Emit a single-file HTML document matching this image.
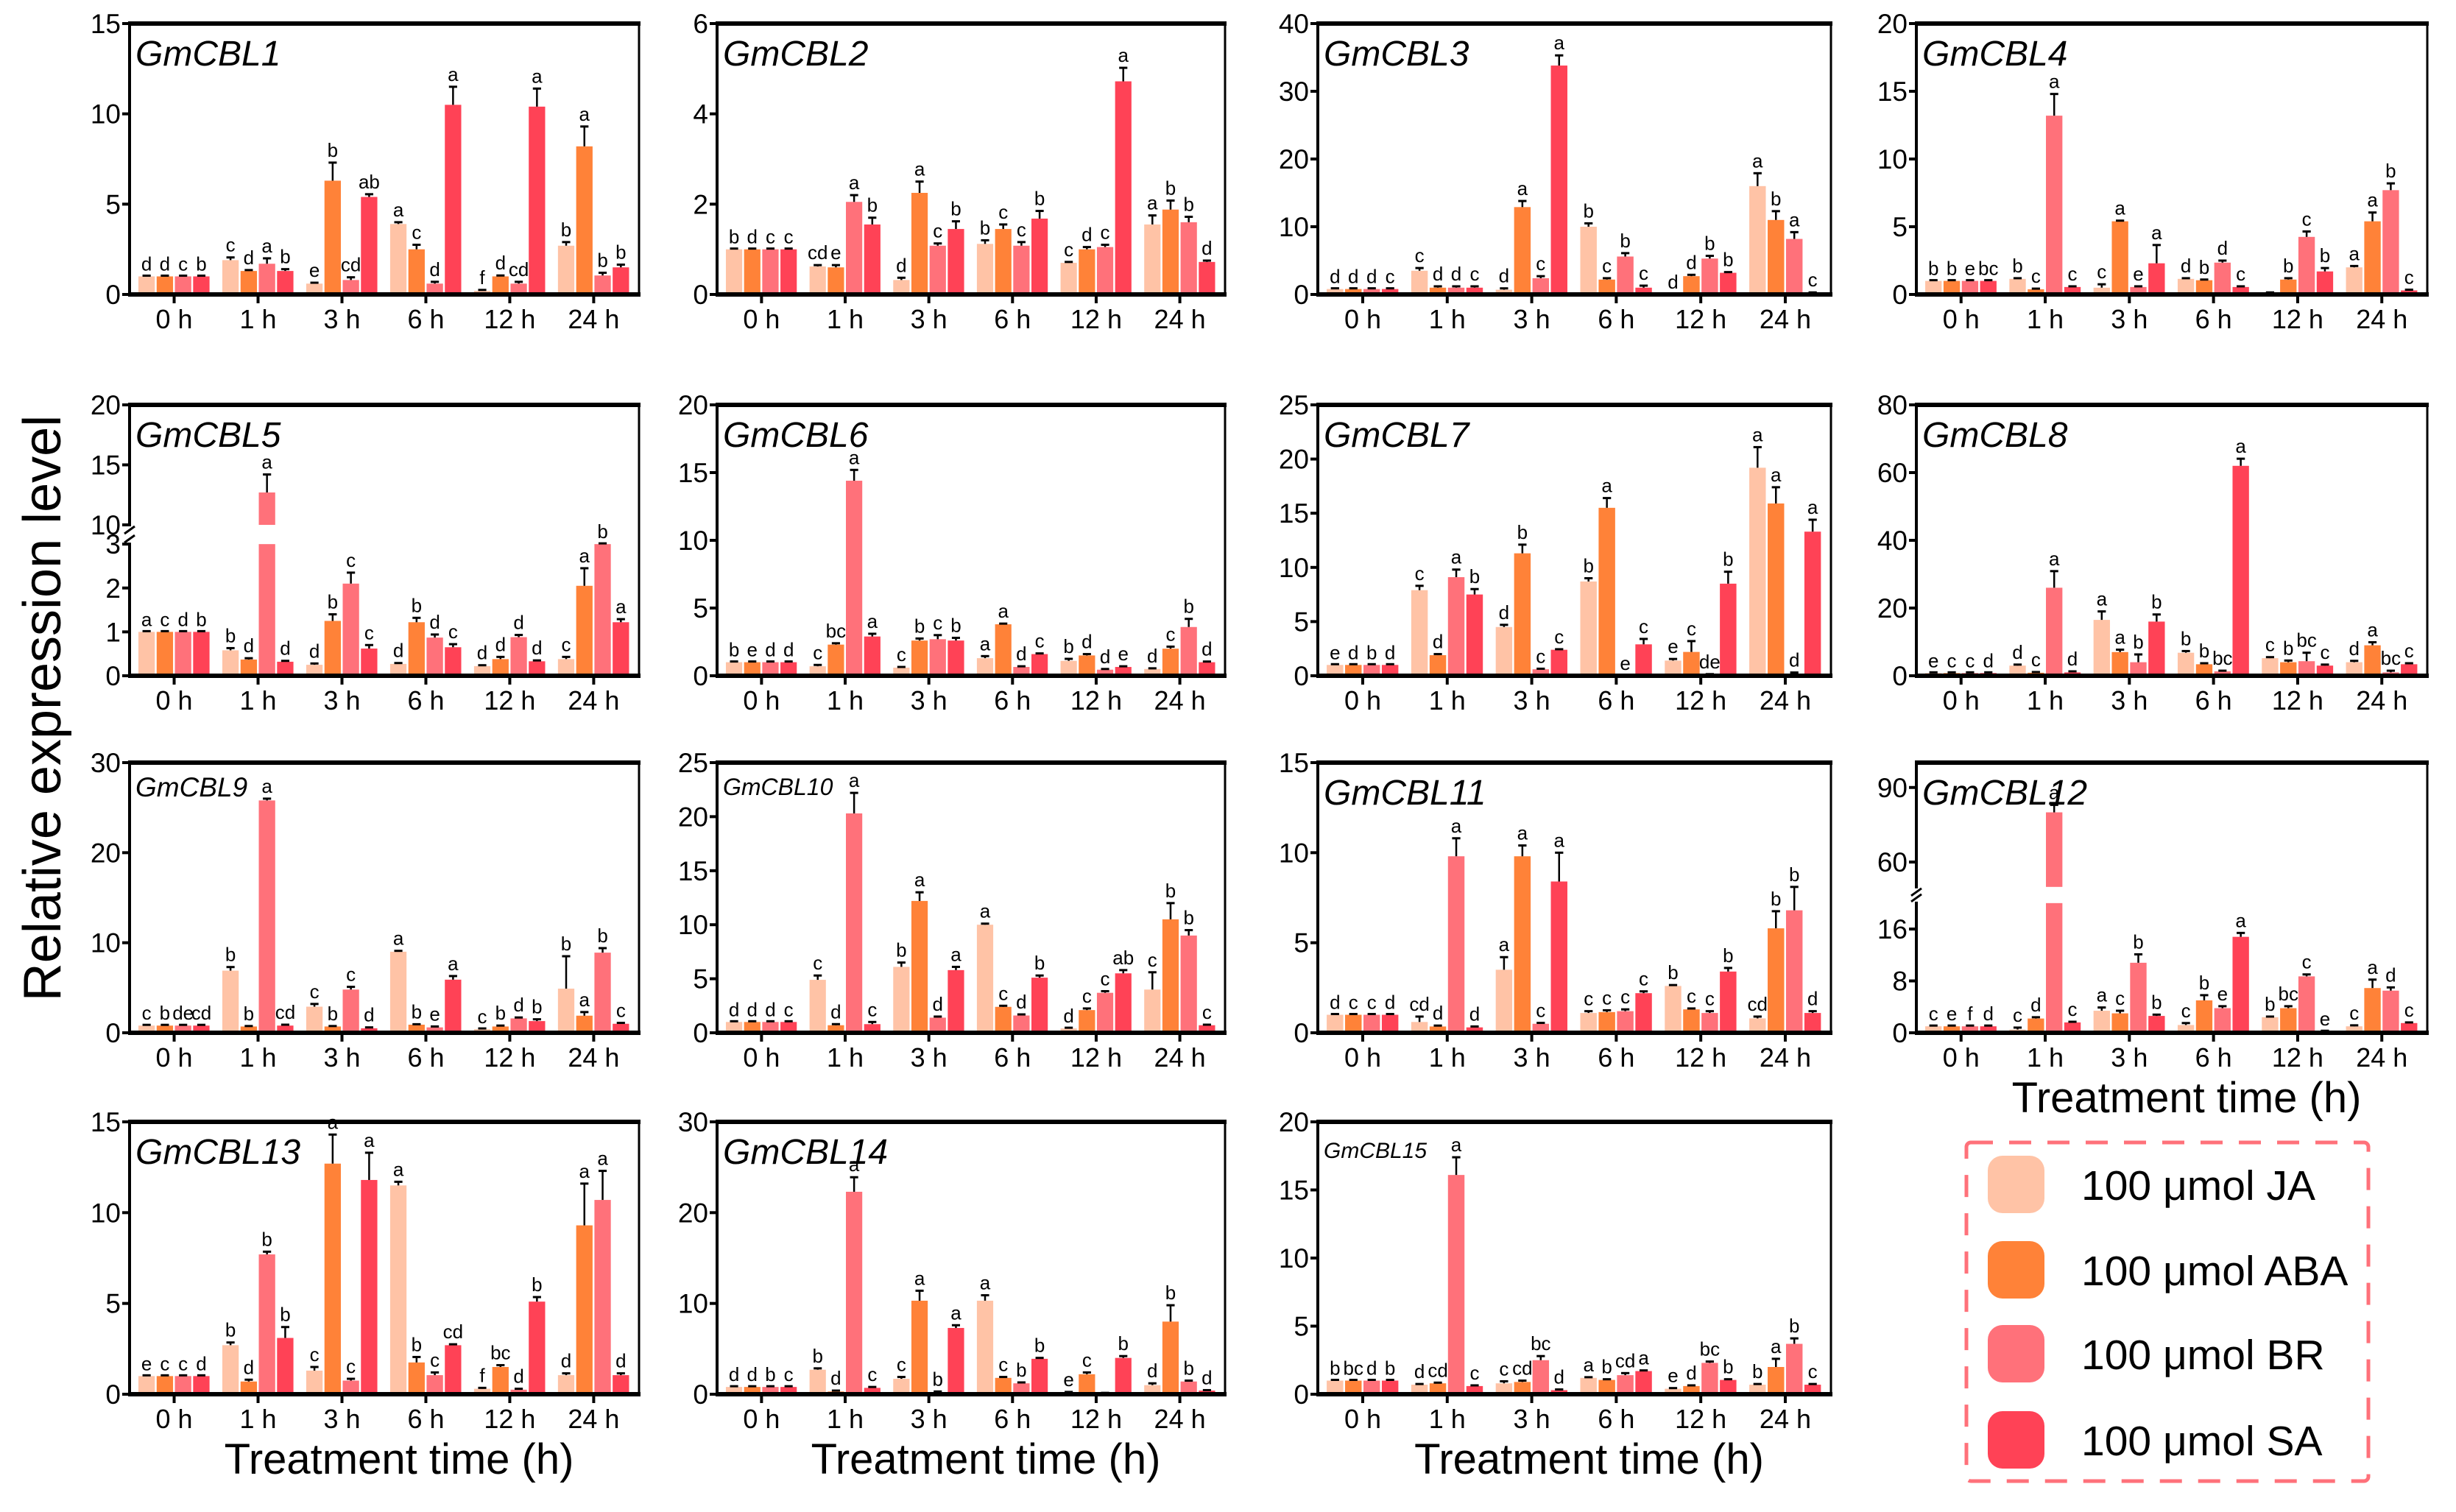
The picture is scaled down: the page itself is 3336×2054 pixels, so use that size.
<!DOCTYPE html>
<html><head><meta charset="utf-8">
<style>
html,body{margin:0;padding:0;background:#fff;}
svg{display:block;font-family:"Liberation Sans",Arial,sans-serif;}
</style></head>
<body>
<svg id="chart" xmlns="http://www.w3.org/2000/svg" width="3336" height="2054" viewBox="0 0 3336 2054">
<rect x="0" y="0" width="3336" height="2054" fill="#fff"/>
<text x="0" y="0" transform="translate(82,962) rotate(-90)" text-anchor="middle" font-size="72">Relative expression level</text>
<g>
  <rect x="2671" y="1552" width="546" height="460" rx="6" fill="none" stroke="#FF717A" stroke-width="5" stroke-dasharray="30,22"/>
  <rect x="2700" y="1570" width="77" height="78" rx="20" fill="#FFC3A6"/>
  <text x="2827" y="1630" font-size="57">100 μmol JA</text>
  <rect x="2700" y="1686" width="77" height="78" rx="20" fill="#FF8238"/>
  <text x="2827" y="1746" font-size="57">100 μmol ABA</text>
  <rect x="2700" y="1800" width="77" height="78" rx="20" fill="#FF717A"/>
  <text x="2827" y="1860" font-size="57">100 μmol BR</text>
  <rect x="2700" y="1917" width="77" height="78" rx="20" fill="#FF4256"/>
  <text x="2827" y="1977" font-size="57">100 μmol SA</text>
</g>
</svg>
<script>
const TIMES = ["0 h","1 h","3 h","6 h","12 h","24 h"];
const GENES = ["GmCBL1","GmCBL2","GmCBL3","GmCBL4","GmCBL5","GmCBL6","GmCBL7","GmCBL8","GmCBL9","GmCBL10","GmCBL11","GmCBL12","GmCBL13","GmCBL14","GmCBL15"];
const SERIES = ["JA","ABA","BR","SA"];
const Y_MAX = [15,6,40,20,20,20,25,80,30,25,15,100,15,30,20];
const Y_TICKS = [[0,5,10,15],[0,2,4,6],[0,10,20,30,40],[0,5,10,15,20],[0,1,2,3,10,15,20],[0,5,10,15,20],[0,5,10,15,20,25],[0,20,40,60,80],[0,10,20,30],[0,5,10,15,20,25],[0,5,10,15],[0,8,16,60,90],[0,5,10,15],[0,10,20,30],[0,5,10,15,20]];
const BREAK_VALUES = {4:[3,10], 11:[20,50]};

const JA_VALUES = [
 [1,1.9,0.6,3.9,0.2,2.7],[1,0.62,0.32,1.12,0.7,1.55],[0.8,3.5,0.7,10,0,16],[1,1.15,0.5,1.15,0.1,2.0],
 [1,0.58,0.25,0.27,0.22,0.38],[1,0.7,0.6,1.3,1.1,0.5],[1,7.9,4.5,8.7,1.4,19.2],[0.8,3,16.5,6.8,5.2,4],
 [0.8,6.9,2.9,9.0,0.4,4.9],[1,4.9,6.1,10,0.4,4],[1,0.6,3.5,1.1,2.6,0.8],[1,0.5,3.4,1.2,2.4,1.0],
 [1,2.7,1.3,11.5,0.3,1.05],[0.8,2.7,1.7,10.3,0.2,1.0],[1,0.7,0.8,1.2,0.4,0.7]];
const ABA_VALUES = [
 [1,1.3,6.3,2.5,1.0,8.2],[1,0.6,2.25,1.45,1.0,1.88],[0.8,1,12.9,2.2,2.7,11],[1,0.38,5.4,1.05,1.1,5.4],
 [1,0.37,1.25,1.22,0.38,2.05],[1,2.3,2.6,3.8,1.5,2.0],[1,1.9,11.3,15.5,2.2,15.9],[0.8,0.9,7,3.4,4,9],
 [0.8,0.7,0.7,0.9,0.7,1.9],[1,0.7,12.2,2.4,2.1,10.5],[1,0.35,9.8,1.15,1.3,5.8],[1,2.2,3.0,5.0,3.8,6.9],
 [1,0.7,12.7,1.75,1.5,9.3],[0.8,0.3,10.3,1.8,2.2,8.0],[1,0.8,0.9,1.05,0.6,2.0]];
const BR_VALUES = [
 [1,1.7,0.8,0.6,0.6,1.05],[1,2.05,1.08,1.08,1.05,1.6],[0.8,1,2.4,5.6,5.3,8.2],[1,13.2,0.55,2.35,4.25,7.7],
 [1,12.7,2.1,0.87,0.88,3.0],[1,14.4,2.7,0.65,0.45,3.6],[1,9.1,0.6,0,0.1,0.2],[0.8,26,4,1.3,4.3,1],
 [0.8,25.8,4.8,0.6,1.6,8.9],[1,20.3,1.4,1.6,3.7,9.0],[1,9.8,0.5,1.2,1.1,6.8],[1,80,10.8,3.8,8.7,6.5],
 [1,7.7,0.75,1.05,0.25,10.7],[0.8,22.3,0.2,1.2,0.1,1.4],[1,16.1,2.5,1.4,2.3,3.7]];
const SA_VALUES = [
 [1,1.3,5.4,10.5,10.4,1.5],[1,1.55,1.45,1.68,4.72,0.72],[0.8,1,33.8,1,3.2,0.2],[1,0.55,2.3,0.55,1.7,0.3],
 [1,0.32,0.62,0.65,0.33,1.22],[1,2.9,2.6,1.6,0.65,1.0],[1,7.5,2.4,2.9,8.5,13.3],[0.8,1,16,62,3,3.4],
 [0.8,0.8,0.5,5.9,1.3,1.0],[1,0.8,5.8,5.1,5.5,0.7],[1,0.3,8.4,2.2,3.4,1.1],[1,1.6,2.6,14.8,0.2,1.5],
 [1,3.1,11.8,2.7,5.1,1.05],[0.8,0.7,7.3,3.9,4.0,0.4],[1,0.6,0.3,1.7,1.05,0.7]];

const JA_ERRORS = [
 [0,0.15,0.05,0.1,0.05,0.2],[0,0.03,0.05,0.08,0.02,0.2],[0,0.4,0.2,0.5,0,1.9],[0,0.05,0.25,0.05,0.05,0.1],
 [0,0.05,0.03,0.02,0.02,0.05],[0,0.1,0.05,0.15,0.15,0.05],[0,0.4,0.2,0.3,0.15,1.9],[0,0.3,2.5,0.5,0.3,0.4],
 [0,0.4,0.3,0.1,0,3.6],[0,0.4,0.4,0.1,0,1.6],[0,0.3,0.7,0.1,0.05,0.1],[0,0.3,0.5,0.3,0.1,0.15],
 [0,0.15,0.2,0.2,0.05,0.1],[0,0.15,0.2,0.6,0.05,0.2],[0,0.05,0.15,0.05,0.05,0.05]];
const ABA_ERRORS = [
 [0,0.05,1.0,0.25,0.05,1.1],[0,0.05,0.25,0.1,0.05,0.2],[0,0.2,0.9,0.2,0.2,1.3],[0,0.05,0.05,0.05,0.1,0.65],
 [0,0.03,0.15,0.1,0.05,0.4],[0,0.1,0.15,0.05,0.1,0.15],[0,0.1,0.8,0.9,1.0,1.5],[0,0.2,0.7,0.3,0.5,0.9],
 [0,0.05,0.05,0.05,0.1,0.4],[0,0.1,0.8,0.1,0.15,1.5],[0,0.05,0.6,0.1,0.05,0.95],[0,0.2,0.4,0.8,0.3,1.3],
 [0,0.1,1.6,0.3,0.1,2.3],[0,0.1,1.1,0.1,0.2,1.8],[0,0.05,0.1,0.05,0.05,0.6]];
const BR_ERRORS = [
 [0,0.3,0.15,0.1,0.1,0.15],[0,0.15,0.05,0.08,0.05,0.12],[0,0.2,0.3,0.5,0.4,1],[0,1.6,0.05,0.15,0.4,0.5],
 [0,1.5,0.25,0.07,0.05,0],[0,0.8,0.3,0.05,0.05,0.6],[0,0.7,0.05,0,0.05,0.1],[0,4.9,2.3,0.2,2.5,0.5],
 [0,0.2,0.3,0.1,0.1,0.5],[0,1.9,0.1,0.1,0.15,0.5],[0,1.0,0.05,0.1,0.1,1.3],[0,3,1.3,0.3,0.3,0.5],
 [0,0.15,0.1,0.15,0.05,1.6],[0,1.6,0.1,0.1,0.05,0.1],[0,1.3,0.3,0.15,0.1,0.4]];
const SA_ERRORS = [
 [0,0.1,0.15,1.0,1.0,0.15],[0,0.15,0.17,0.17,0.3,0.03],[0,0.2,1.5,0.3,0.1,0.1],[0,0.05,1.35,0.05,0.25,0.05],
 [0,0.02,0.08,0.07,0.02,0.07],[0,0.2,0.2,0.05,0.05,0.05],[0,0.5,0.05,0.5,1.1,1.1],[0,0.3,2.1,2.1,0.3,0.3],
 [0,0.1,0.1,0.4,0.2,0.1],[0,0.2,0.3,0.2,0.3,0.05],[0,0.05,1.6,0.1,0.2,0.1],[0,0.1,0.2,0.6,0,0.1],
 [0,0.6,1.5,0.05,0.25,0.1],[0,0.1,0.3,0.1,0.2,0.05],[0,0.05,0.05,0.05,0.05,0.05]];

const JA_LETTERS = [
 ["d","c","e","a","f","b"],["b","cd","d","b","c","a"],["d","c","d","b","d","a"],["b","b","c","d","","a"],
 ["a","b","d","d","d","c"],["b","c","c","a","b","d"],["e","c","d","b","e","a"],["e","d","a","b","c","d"],
 ["c","b","c","a","c","b"],["d","c","b","a","d","c"],["d","cd","a","c","b","cd"],["c","c","a","c","b","c"],
 ["e","b","c","a","f","d"],["d","b","c","a","e","d"],["b","d","c","a","e","b"]];
const ABA_LETTERS = [
 ["d","d","b","c","d","a"],["d","e","a","c","d","b"],["d","d","a","c","d","b"],["b","c","a","b","b","a"],
 ["c","d","b","b","d","a"],["e","bc","b","a","d","c"],["d","d","b","a","c","a"],["c","c","a","b","b","a"],
 ["b","b","b","b","b","a"],["d","d","a","c","c","b"],["c","d","a","c","c","b"],["e","d","c","b","bc","a"],
 ["c","d","a","b","bc","a"],["d","d","a","c","c","b"],["bc","cd","cd","b","d","a"]];
const BR_LETTERS = [
 ["c","a","cd","d","cd","b"],["c","a","c","c","c","b"],["d","d","c","b","b","a"],["e","a","e","d","c","b"],
 ["d","a","c","d","d","b"],["d","a","c","d","d","b"],["b","a","c","e","de","d"],["c","a","b","bc","bc","bc"],
 ["de","a","c","e","d","b"],["d","a","d","d","c","b"],["c","a","c","c","c","b"],["f","a","b","e","c","d"],
 ["c","b","c","c","d","a"],["b","a","b","b","","b"],["d","a","bc","cd","bc","b"]];
const SA_LETTERS = [
 ["b","b","ab","a","a","b"],["c","b","b","b","a","d"],["c","c","a","c","b","c"],["bc","c","a","c","b","c"],
 ["b","d","c","c","d","a"],["d","a","b","c","e","d"],["d","b","c","c","b","a"],["d","d","b","a","c","c"],
 ["cd","cd","d","a","b","c"],["c","c","a","b","ab","c"],["d","d","a","c","b","d"],["d","c","b","a","e","c"],
 ["d","b","a","cd","b","d"],["c","c","a","b","b","d"],["b","c","d","a","b","c"]];

const COLORS = ["#FFC3A6","#FF8238","#FF717A","#FF4256"];
const COL_X = [[176,868],[974,1664],[1790,2487],[2603,3297]];
const ROW_Y = [[32,400],[550,918],[1036,1403],[1524,1894]];
const BREAK_FRAC = {4:[0.486,0.557], 11:[0.48,0.54]};
const TITLE_STYLE = {8:[37,46],9:[32,44],14:[30,49]};

const NS = "http://www.w3.org/2000/svg";
const svg = document.getElementById("chart");
function mk(tag, attrs, parent){ const e=document.createElementNS(NS,tag); for(const k in attrs) e.setAttribute(k,attrs[k]); parent.appendChild(e); return e; }

const VALUES=[JA_VALUES,ABA_VALUES,BR_VALUES,SA_VALUES];
const ERRORS=[JA_ERRORS,ABA_ERRORS,BR_ERRORS,SA_ERRORS];
const LETTERS=[JA_LETTERS,ABA_LETTERS,BR_LETTERS,SA_LETTERS];

for(let p=0;p<GENES.length;p++){
  const [L,R]=COL_X[p%4], [T,B]=ROW_Y[Math.floor(p/4)];
  const W=R-L, H=B-T;
  const g=mk("g",{},svg);
  
  
  const br=BREAK_VALUES[p], bf=BREAK_FRAC[p];
  const yOf=(v)=>{
    if(!br) return B - v/Y_MAX[p]*H;
    if(v<=br[0]) return B - v/br[0]*bf[0]*H;
    return B - (bf[1] + (v-br[1])/(Y_MAX[p]-br[1])*(1-bf[1]))*H;
  };
  const step=W*0.1647, first=W*0.0875, slot=W*0.0358;
  for(let t=0;t<6;t++){
    const cx=L+first+t*step;
    for(let s=0;s<4;s++){
      const v=VALUES[s][p][t], e=ERRORS[s][p][t], lt=LETTERS[s][p][t];
      const x=cx-2*slot+s*slot+1, bw=slot-2.5;
      if(br && v>br[0]){
        const yl=B-bf[0]*H, yu=B-bf[1]*H;
        const r1=mk("rect",{x:x,y:yl,width:bw,height:B-yl,fill:COLORS[s]},g);
        
        
        const r2=mk("rect",{x:x,y:yOf(v),width:bw,height:Math.max(0,yu-yOf(v)),fill:COLORS[s]},g);
        
        
      } else {
        const yv=yOf(v);
        const r=mk("rect",{x:x,y:yv,width:bw,height:Math.max(0,B-yv),fill:COLORS[s]},g);
        
        
      }
      const bx=x+bw/2, ytop=yOf(v+e), yv=yOf(v);
      if(e>0){
        mk("line",{x1:bx,y1:yv,x2:bx,y2:ytop,stroke:"#000","stroke-width":2.5},g);
        mk("line",{x1:bx-bw*0.25,y1:ytop,x2:bx+bw*0.25,y2:ytop,stroke:"#000","stroke-width":3},g);
      } else if(v>0){
        mk("line",{x1:bx-bw*0.25,y1:yv-1,x2:bx+bw*0.25,y2:yv-1,stroke:"#000","stroke-width":3},g);
      }
      if(lt){
        const tx=mk("text",{x:bx,y:Math.min(ytop,yv)-8,"text-anchor":"middle","font-size":26},g);
        tx.textContent=lt;
        
        
      }
    }
    mk("line",{x1:cx,y1:B,x2:cx,y2:B+12,stroke:"#000","stroke-width":4},g);
    const xl=mk("text",{x:cx,y:B+46,"text-anchor":"middle","font-size":36},g);
    xl.textContent=TIMES[t];
    
    
  }
  mk("line",{x1:L-2,y1:T,x2:R+2,y2:T,stroke:"#000","stroke-width":6},g);
  mk("line",{x1:L-2,y1:B,x2:R+2,y2:B,stroke:"#000","stroke-width":6},g);
  mk("line",{x1:R,y1:T,x2:R,y2:B,stroke:"#000","stroke-width":3},g);
  mk("line",{x1:L,y1:T,x2:L,y2:B,stroke:"#000","stroke-width":4},g);
  if(br){
    const yl=B-bf[0]*H, yu=B-bf[1]*H;
    mk("rect",{x:L-4,y:yu+2,width:8,height:yl-yu-4,fill:"#fff"},g);
    mk("line",{x1:L-7,y1:yl-2,x2:L+7,y2:yl-12,stroke:"#000","stroke-width":3},g);
    mk("line",{x1:L-7,y1:yu+12,x2:L+7,y2:yu+2,stroke:"#000","stroke-width":3},g);
  }
  for(const tv of Y_TICKS[p]){
    const y=yOf(tv);
    mk("line",{x1:L-10,y1:y,x2:L,y2:y,stroke:"#000","stroke-width":4},g);
    const yl=mk("text",{x:L-12,y:y+13,"text-anchor":"end","font-size":37},g);
    yl.textContent=tv;
    
    
  }
  const ts=TITLE_STYLE[p]||[48,57];
  const title=mk("text",{x:L+8,y:T+ts[1],"font-size":ts[0],"font-style":"italic"},g);
  title.textContent=GENES[p];
  
  
  if(p>=11){
    const at=mk("text",{x:(L+R)/2+20,y:B+108,"text-anchor":"middle","font-size":58},g);
    at.textContent="Treatment time (h)";
    
    
  }
}
</script>
</body></html>
